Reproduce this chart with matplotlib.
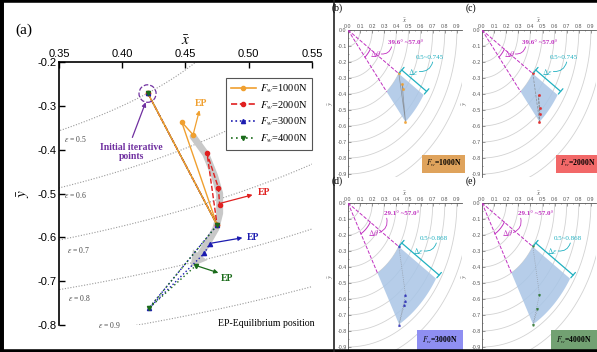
import numpy as np
import matplotlib.pyplot as plt
from matplotlib.patches import Ellipse
from matplotlib.lines import Line2D
from matplotlib.ticker import FormatStrFormatter, MultipleLocator

plt.rcParams['font.family'] = ['Liberation Serif', 'DejaVu Serif']
plt.rcParams['mathtext.fontset'] = 'stix'
plt.rcParams['axes.unicode_minus'] = False

# iteration paths (x_bar, y_bar), last point = equilibrium position
x_1000 = [0.420, 0.475, 0.447, 0.456]
y_1000 = [-0.270, -0.572, -0.337, -0.366]
x_2000 = [0.420, 0.475, 0.467, 0.476, 0.477]
y_2000 = [-0.270, -0.572, -0.408, -0.487, -0.526]
x_3000 = [0.420, 0.475, 0.421, 0.465, 0.469]
y_3000 = [-0.270, -0.572, -0.762, -0.636, -0.615]
x_4000 = [0.420, 0.475, 0.421, 0.458]
y_4000 = [-0.270, -0.572, -0.762, -0.665]

# grey band showing how the EP moves with load
band_x = [0.456, 0.466, 0.473, 0.477, 0.477, 0.474, 0.467, 0.462]
band_y = [-0.370, -0.410, -0.460, -0.500, -0.545, -0.580, -0.615, -0.638]
band_tip = (0.454, -0.668)

eps_levels = [0.5, 0.6, 0.7, 0.8, 0.9]
eps_lab_x = [0.354, 0.354, 0.356, 0.357, 0.381]
eps_lab_y = [-0.376, -0.503, -0.629, -0.738, -0.799]

# ranges for the small panels (theta from -y axis, deg; eccentricity)
theta_lo = [39.6, 39.6, 29.1, 29.1]
theta_hi = [57.0, 57.0, 57.0, 57.0]
eps_lo = [0.5, 0.5, 0.5, 0.5]
eps_hi = [0.745, 0.745, 0.868, 0.868]
loads = ['1000N', '2000N', '3000N', '4000N']

colors = ['#f0a030', '#e02020', '#1c1cb0', '#1a6b1a']
box_colors = ['#dfa35c', '#f26868', '#8f8ff2', '#72a172']
purple = '#7030a0'
magenta = '#c030c0'
cyan = '#20b0c0'

paths = [(x_1000, y_1000), (x_2000, y_2000), (x_3000, y_3000), (x_4000, y_4000)]
lstyles = ['-', '--', ':', (0, (1, 2))]
markers = ['o', 'o', '^', 'v']

W, H = 597, 352
fig = plt.figure(figsize=(W / 100, H / 100), dpi=100)

# ---------------- panel (a) ----------------
ax = fig.add_axes([59 / W, 1 - 325 / H, (312 - 59) / W, (325 - 62) / H])
ax.set_xlim(0.35, 0.55)
ax.set_ylim(-0.8, -0.2)
ax.spines['right'].set_visible(False)
ax.spines['bottom'].set_visible(False)
ax.spines['top'].set_linewidth(1.2)
ax.spines['left'].set_linewidth(1.2)
ax.xaxis.tick_top()
ax.xaxis.set_label_position('top')
ax.set_xticks([0.35, 0.40, 0.45, 0.50, 0.55])
ax.set_yticks([-0.2, -0.3, -0.4, -0.5, -0.6, -0.7, -0.8])
ax.xaxis.set_major_formatter(FormatStrFormatter('%.2f'))
ax.yaxis.set_major_formatter(FormatStrFormatter('%.1f'))
ax.tick_params(direction='in', length=4, width=1, labelsize=8, pad=2)
for lab in ax.get_xticklabels() + ax.get_yticklabels():
    lab.set_family('Liberation Sans')
ax.set_xlabel(r'$\bar{x}$', fontsize=11, labelpad=3)
ax.set_ylabel(r'$\bar{y}$', fontsize=11, labelpad=4)

t = np.linspace(-np.pi / 2, 0, 400)
for e, lx, ly in zip(eps_levels, eps_lab_x, eps_lab_y):
    ax.plot(e * np.cos(t), e * np.sin(t), ls=(0, (1, 1.5)), color='#9a9a9a', lw=0.8, zorder=1)
    ax.text(lx, ly, '$\\varepsilon$ = %.1f' % e, fontsize=5.5, color='#444444', va='center')

ax.plot(band_x, band_y, color='#c8c8c8', lw=5, solid_capstyle='round', zorder=1.5)
ax.annotate('', xy=band_tip, xytext=(band_x[-1], band_y[-1]),
            arrowprops=dict(arrowstyle='simple,head_width=1.6,head_length=1.4,tail_width=0.6',
                            mutation_scale=8, fc='#c8c8c8', ec='none', shrinkA=0, shrinkB=0),
            zorder=1.5)

for (px, py), c, ls in zip(paths, colors, lstyles):
    ax.plot(px, py, ls=ls, color=c, lw=1.0, zorder=3)
ax.plot(x_1000[:2], y_1000[:2], ls='-', color=colors[0], lw=1.0, zorder=3.5)
for (px, py), c, m in zip(paths, colors, markers):
    ax.plot(px, py, ls='none', marker=m, ms=3, color=c, zorder=5)

handles = [Line2D([], [], color=c, ls=ls, marker=m, ms=3, lw=1.2)
           for c, ls, m in zip(colors, lstyles, markers)]
leg = ax.legend(handles, [r'$F_w$=' + l for l in loads], loc='upper right',
                bbox_to_anchor=(1.0, 0.94), borderaxespad=0, fontsize=7.5, frameon=True,
                fancybox=False, edgecolor='#555555', framealpha=1, handlelength=2.4,
                borderpad=0.45, labelspacing=0.4, handletextpad=0.4)
leg.get_frame().set_linewidth(0.8)

# EP arrows and labels: (start, end, text position)
ep_arrows = [((0.456, -0.366), (0.461, -0.310), (0.462, -0.294)),
             ((0.478, -0.522), (0.503, -0.503), (0.512, -0.497)),
             ((0.471, -0.613), (0.495, -0.601), (0.503, -0.600)),
             ((0.459, -0.665), (0.476, -0.681), (0.483, -0.694))]
for (p0, p1, pt), c in zip(ep_arrows, colors):
    ax.annotate('', xy=p1, xytext=p0,
                arrowprops=dict(arrowstyle='-|>', color=c, lw=0.9, mutation_scale=6,
                                shrinkA=0, shrinkB=0), zorder=6)
    ax.text(pt[0], pt[1], 'EP', color=c, fontsize=7, fontweight='bold',
            ha='center', va='center')

ax.add_patch(Ellipse((0.420, -0.272), 0.0135, 0.040, fill=False, ls='--', ec=purple, lw=0.9, zorder=6))
ax.annotate('', xy=(0.4185, -0.292), xytext=(0.408, -0.372),
            arrowprops=dict(arrowstyle='-|>', color=purple, lw=0.9, mutation_scale=6,
                            shrinkA=0, shrinkB=0))
ax.text(0.407, -0.405, 'Initial iterative\npoints', color=purple, fontsize=7,
        fontweight='bold', ha='center', va='center', linespacing=0.95)
ax.text(0.514, -0.797, 'EP-Equilibrium position', fontsize=7, ha='center', va='center')

fig.text(15 / W, 1 - 30 / H, '(a)', fontsize=11, va='center')


# ---------------- panels (b)-(e) ----------------
def small_panel(ox, oy, tag, i):
    a = fig.add_axes([ox / W, 1 - (oy + 0.92 * 160) / H, 0.94 * 121 / W, 0.92 * 160 / H])
    a.set_xlim(0, 0.94)
    a.set_ylim(-0.92, 0)
    a.patch.set_alpha(0)
    a.spines['right'].set_visible(False)
    a.spines['bottom'].set_visible(False)
    for s in ['top', 'left']:
        a.spines[s].set_linewidth(0.6)
        a.spines[s].set_color('#555555')
    a.xaxis.tick_top()
    a.xaxis.set_label_position('top')
    a.set_xticks(np.round(np.arange(0, 0.95, 0.1), 1))
    a.set_yticks(np.round(np.arange(0, -0.95, -0.1), 1))
    a.xaxis.set_minor_locator(MultipleLocator(0.05))
    a.yaxis.set_minor_locator(MultipleLocator(0.05))
    a.xaxis.set_major_formatter(FormatStrFormatter('%.1f'))
    a.yaxis.set_major_formatter(FormatStrFormatter('%.1f'))
    a.tick_params(which='both', direction='in', width=0.4, labelsize=3.8, pad=1,
                  colors='#555555')
    a.tick_params(which='major', length=1.8)
    a.tick_params(which='minor', length=1.0)
    for lab in a.get_xticklabels() + a.get_yticklabels():
        lab.set_family('Liberation Sans')
    a.set_xlabel(r'$\bar{x}$', fontsize=5, labelpad=0.5, color='#555555')
    a.set_ylabel(r'$\bar{y}$', fontsize=5, labelpad=1, color='#555555')

    tq = np.linspace(-np.pi / 2, 0, 200)
    for r in np.arange(0.1, 1.01, 0.1):
        a.plot(r * np.cos(tq), r * np.sin(tq), color='#d2d2d2', lw=0.6, zorder=1)

    ph_lo = np.radians(theta_lo[i] - 90)
    ph_hi = np.radians(theta_hi[i] - 90)
    ph = np.linspace(ph_lo, ph_hi, 60)
    sx = np.concatenate([eps_lo[i] * np.cos(ph), eps_hi[i] * np.cos(ph[::-1])])
    sy = np.concatenate([eps_lo[i] * np.sin(ph), eps_hi[i] * np.sin(ph[::-1])])
    a.fill(sx, sy, color='#a9c5e6', alpha=0.85, lw=0, zorder=2)

    for p in [ph_lo, ph_hi]:
        a.plot([0, eps_lo[i] * np.cos(p)], [0, eps_lo[i] * np.sin(p)],
               ls='--', color=magenta, lw=0.7, zorder=3)
    pa = np.linspace(ph_lo, ph_hi, 30)
    a.plot(0.22 * np.cos(pa), 0.22 * np.sin(pa), color=magenta, lw=0.7, zorder=3)

    px, py = paths[i]
    a.plot(px, py, ls=lstyles[i], color='#777777', lw=0.5, alpha=0.7, zorder=4)
    a.plot(px, py, ls='none', marker=markers[i], ms=1.2, color=colors[i], alpha=0.7, zorder=4)

    # text positions
    if i < 2:
        deg_xy, dth_xy, rng_xy, de_xy = (0.48, -0.075), (0.225, -0.15), (0.68, -0.17), (0.54, -0.26)
        box_xy = (0.79, -0.835)
    else:
        deg_xy, dth_xy, rng_xy, de_xy = (0.44, -0.065), (0.21, -0.185), (0.71, -0.22), (0.58, -0.30)
        box_xy = (0.76, -0.86)
    a.text(deg_xy[0], deg_xy[1], '%.1f° ~%.1f°' % (theta_lo[i], theta_hi[i]), color=magenta,
           fontsize=5, fontweight='bold', ha='center', va='center')
    a.text(dth_xy[0], dth_xy[1], r'$\Delta\theta$', color=magenta, fontsize=5.5,
           ha='center', va='center')
    a.annotate('', xy=(deg_xy[0] - 0.12, deg_xy[1] - 0.03), xytext=(dth_xy[0] + 0.05, dth_xy[1]),
               arrowprops=dict(arrowstyle='-', color=magenta, lw=0.6,
                               connectionstyle='arc3,rad=0.4', shrinkA=0, shrinkB=0))

    d = np.array([np.cos(ph_hi), np.sin(ph_hi)])
    off = np.array([0.025, 0.022])
    p1 = eps_lo[i] * d + off
    p2 = eps_hi[i] * d + off
    a.annotate('', xy=p2, xytext=p1,
               arrowprops=dict(arrowstyle='|-|,widthA=0.25,widthB=0.25', color=cyan, lw=0.9,
                               shrinkA=0, shrinkB=0), zorder=5)
    a.text(rng_xy[0], rng_xy[1], '%.1f~%.3f' % (eps_lo[i], eps_hi[i]), color=cyan,
           fontsize=5, ha='center', va='center')
    a.text(de_xy[0], de_xy[1], r'$\Delta\varepsilon$', color=cyan, fontsize=5.5,
           ha='center', va='center')
    a.annotate('', xy=(rng_xy[0] + 0.02, rng_xy[1] - 0.03), xytext=(de_xy[0] + 0.05, de_xy[1]),
               arrowprops=dict(arrowstyle='-', color=cyan, lw=0.6,
                               connectionstyle='arc3,rad=0.4', shrinkA=0, shrinkB=0))

    pad = 0.45 if i < 2 else 0.7
    a.text(box_xy[0], box_xy[1], r'$F_w$=' + loads[i], fontsize=5.5, fontweight='bold',
           ha='center', va='center',
           bbox=dict(boxstyle='square,pad=%.2f' % pad, fc=box_colors[i], ec='none'))
    fig.text((ox - 16) / W, 1 - (oy - 22) / H, tag, fontsize=7, va='center')
    return a


small_panel(348, 30, '(b)', 0)
small_panel(482, 30, '(c)', 1)
small_panel(348, 203, '(d)', 2)
small_panel(482, 203, '(e)', 3)

# frame lines
fig.add_artist(Line2D([0, 1], [1, 1], transform=fig.transFigure, color='k', lw=4))
fig.add_artist(Line2D([0, 1], [0, 0], transform=fig.transFigure, color='k', lw=4))
fig.add_artist(Line2D([0, 0], [0, 1], transform=fig.transFigure, color='k', lw=5))
fig.add_artist(Line2D([334 / W, 334 / W], [0, 1], transform=fig.transFigure, color='#222222', lw=1.2))

fig.savefig('out.png', dpi=100)
